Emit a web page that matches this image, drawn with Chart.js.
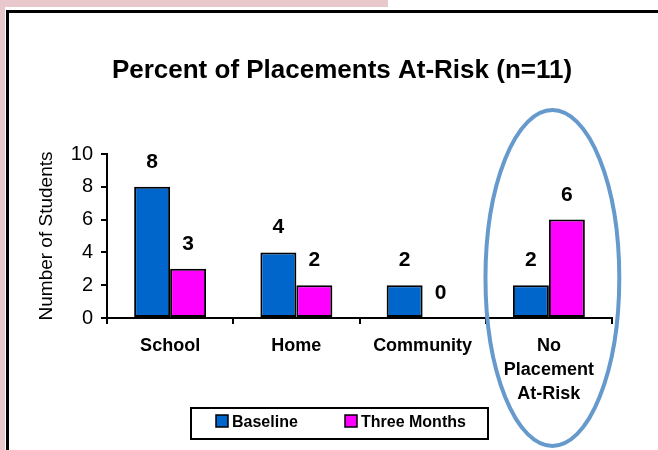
<!DOCTYPE html>
<html>
<head>
<meta charset="utf-8">
<script src="https://cdn.jsdelivr.net/npm/chart.js@4.4.1/dist/chart.umd.min.js"></script>
<style>
html,body{margin:0;padding:0;background:#fff;}
#wrap{position:relative;width:658px;height:450px;}
canvas{display:block;}
</style>
</head>
<body>
<div id="wrap"><canvas id="c" width="658" height="450"></canvas></div>
<script>
const categories = [["School"], ["Home"], ["Community"], ["No", "Placement", "At-Risk"]];
const baseline = [8, 4, 2, 2];
const threeMonths = [3, 2, 0, 6];
const seriesNames = ["Baseline", "Three Months"];
const yTicks = [0, 2, 4, 6, 8, 10];
const chartTitle = "Percent of Placements At-Risk (n=11)";
const yTitle = "Number of Students";

const FONT = "'Liberation Sans', Arial, Helvetica, sans-serif";

const framePlugin = {
  id: 'frame',
  beforeDraw(chart) {
    const ctx = chart.ctx;
    ctx.save();
    ctx.fillStyle = '#ffffff';
    ctx.fillRect(0, 0, chart.width, chart.height);
    ctx.fillStyle = '#e8c8ca';
    ctx.fillRect(0, 0, 388, 7);
    ctx.fillRect(0, 0, 5, chart.height);
    ctx.fillStyle = '#000000';
    ctx.fillRect(6, 10, chart.width - 6, 3);
    ctx.fillRect(6, 10, 3, chart.height - 10);
    ctx.restore();
  }
};

const overlayPlugin = {
  id: 'overlay',
  afterDatasetsDraw(chart) {
    const ctx = chart.ctx;
    ctx.save();
    // value labels
    ctx.font = "bold 21px " + FONT;
    ctx.fillStyle = '#000';
    ctx.textAlign = 'center';
    ctx.textBaseline = 'alphabetic';
    chart.data.datasets.forEach((ds, di) => {
      const meta = chart.getDatasetMeta(di);
      meta.data.forEach((bar, i) => {
        ctx.fillText(String(ds.data[i]), bar.x, bar.y - 19);
      });
    });
    // title
    ctx.font = "bold 26px " + FONT;
    ctx.fillText(chartTitle, 342, 78);
    // legend
    const lx = 191, ly = 408, lw = 297, lh = 31;
    ctx.lineWidth = 2;
    ctx.strokeStyle = '#000';
    ctx.strokeRect(lx, ly, lw, lh);
    ctx.font = "bold 16px " + FONT;
    ctx.textAlign = 'left';
    const itemX = [216, 345];
    chart.data.datasets.forEach((ds, di) => {
      const x = itemX[di];
      ctx.fillStyle = ds.backgroundColor;
      ctx.fillRect(x, 415, 12, 12);
      ctx.lineWidth = 1.5;
      ctx.strokeRect(x, 415, 12, 12);
      ctx.fillStyle = '#000';
      ctx.fillText(ds.label, x + 16, 427);
    });
    // ellipse highlight around last category
    const xs = chart.scales.x;
    const catW = (chart.chartArea.right - chart.chartArea.left) / categories.length;
    const cx = xs.getPixelForValue(categories.length - 1) + 3.5;
    ctx.beginPath();
    ctx.ellipse(cx, 278, catW * 0.53, 168, 0, 0, Math.PI * 2);
    ctx.lineWidth = 4;
    ctx.strokeStyle = '#6699cc';
    ctx.stroke();
    ctx.restore();
  }
};

new Chart(document.getElementById('c'), {
  type: 'bar',
  data: {
    labels: categories,
    datasets: [
      { label: seriesNames[0], data: baseline, backgroundColor: '#0066cc', borderColor: '#000', borderWidth: 2, borderSkipped: false },
      { label: seriesNames[1], data: threeMonths, backgroundColor: '#ff00ff', borderColor: '#000', borderWidth: 2, borderSkipped: false }
    ]
  },
  options: {
    responsive: false,
    animation: false,
    categoryPercentage: 0.57,
    barPercentage: 1.0,
    layout: { padding: { top: 154, right: 46, bottom: 0, left: 0 } },
    plugins: {
      legend: { display: false },
      title: { display: false },
      tooltip: { enabled: false }
    },
    scales: {
      x: {
        grid: { drawOnChartArea: false, drawTicks: true, tickLength: 6, color: '#000', lineWidth: 2, offset: true },
        border: { display: true, color: '#000', width: 2 },
        ticks: { color: '#000', font: { family: FONT, size: 18, weight: 'bold', lineHeight: 1.33 }, padding: 10, maxRotation: 0, autoSkip: false },
        afterFit(scale) { scale.height = 132; }
      },
      y: {
        min: 0, max: 10,
        afterBuildTicks(scale) { scale.ticks = yTicks.map(v => ({ value: v })); },
        grid: { drawOnChartArea: false, drawTicks: true, tickLength: 6, color: '#000', lineWidth: 2 },
        border: { display: true, color: '#000', width: 2 },
        ticks: { color: '#000', font: { family: FONT, size: 20 }, padding: 8 },
        title: { display: true, text: yTitle, color: '#000', font: { family: FONT, size: 19 }, padding: { top: 35, bottom: 0 } },
        afterFit(scale) { scale.width = 107; }
      }
    }
  },
  plugins: [framePlugin, overlayPlugin]
});
</script>
</body>
</html>
